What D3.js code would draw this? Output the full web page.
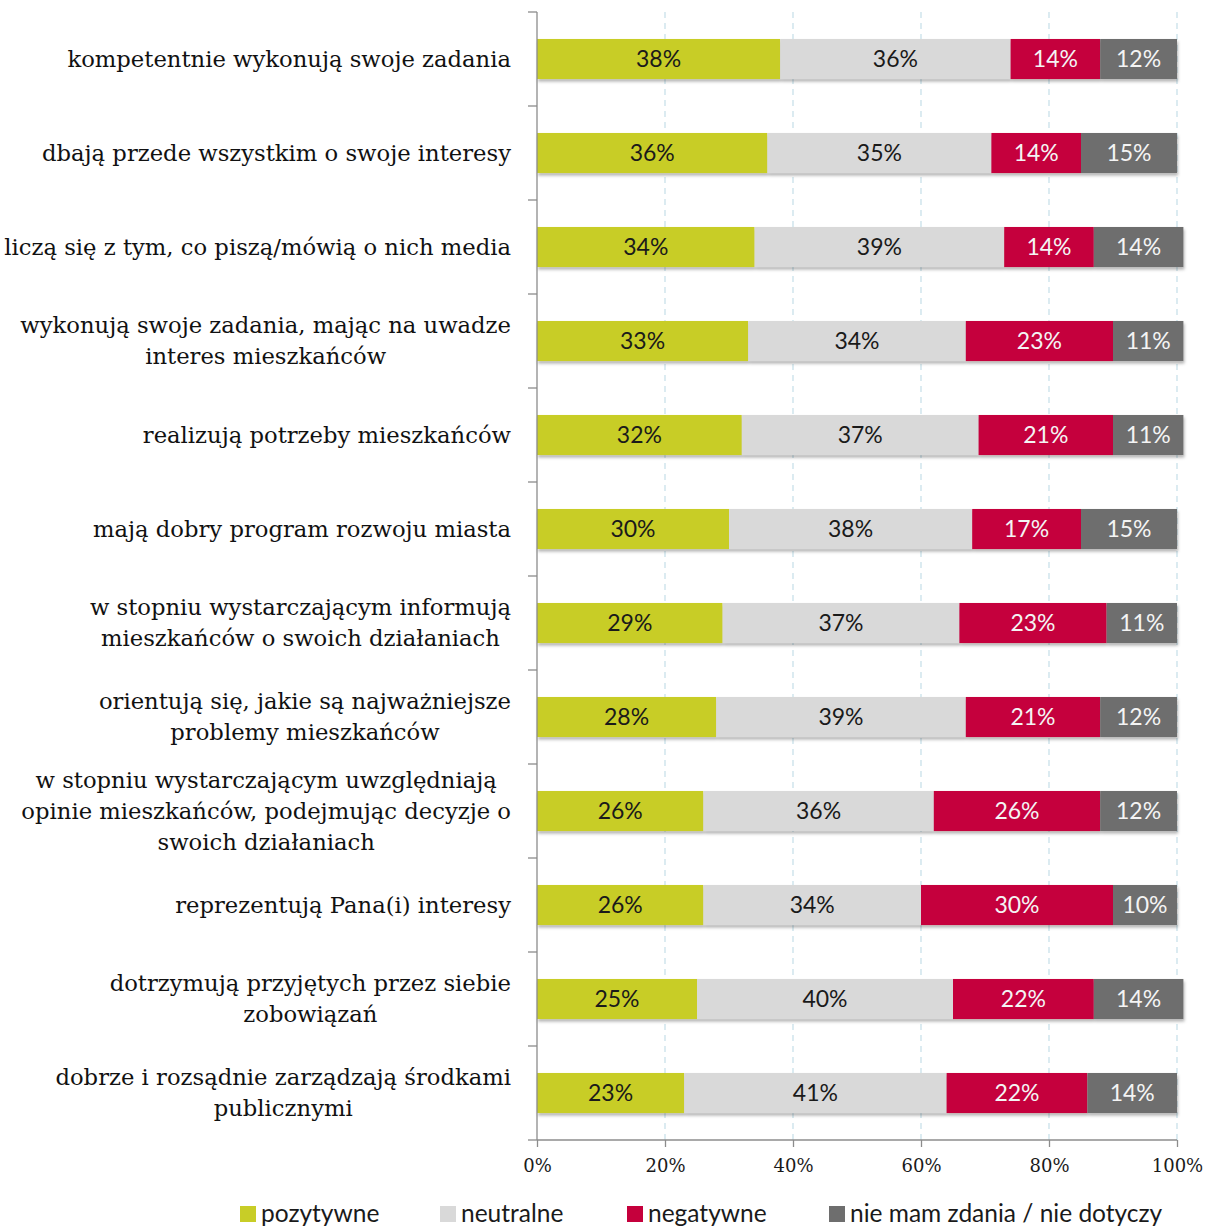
<!DOCTYPE html>
<html>
<head>
<meta charset="utf-8">
<script src="https://cdn.jsdelivr.net/npm/d3@7"></script>
<style>
  html, body { margin: 0; padding: 0; background: #fff; }
  svg { display: block; }
</style>
</head>
<body>
<svg id="chart" width="1206" height="1230"></svg>
<script>
// Survey statements (each entry is a list of lines as set in the label)
const statements = [
  ["kompetentnie wykonują swoje zadania"],
  ["dbają przede wszystkim o swoje interesy"],
  ["liczą się z tym, co piszą/mówią o nich media"],
  ["wykonują swoje zadania, mając na uwadze", "interes mieszkańców"],
  ["realizują potrzeby mieszkańców"],
  ["mają dobry program rozwoju miasta"],
  ["w stopniu wystarczającym informują", "mieszkańców o swoich działaniach"],
  ["orientują się, jakie są najważniejsze", "problemy mieszkańców"],
  ["w stopniu wystarczającym uwzględniają", "opinie mieszkańców, podejmując decyzje o", "swoich działaniach"],
  ["reprezentują Pana(i) interesy"],
  ["dotrzymują przyjętych przez siebie", "zobowiązań"],
  ["dobrze i rozsądnie zarządzają środkami", "publicznymi"]
];

// Share of answers (%) per statement
const pozytywne = [38, 36, 34, 33, 32, 30, 29, 28, 26, 26, 25, 23];
const neutralne = [36, 35, 39, 34, 37, 38, 37, 39, 36, 34, 40, 41];
const negatywne = [14, 14, 14, 23, 21, 17, 23, 21, 26, 30, 22, 22];
const brakZdania = [12, 15, 14, 11, 11, 15, 11, 12, 12, 10, 14, 14];

const seriesNames = ["pozytywne", "neutralne", "negatywne", "nie mam zdania / nie dotyczy"];
const xTicks = [0, 20, 40, 60, 80, 100];

const colors = ["#c8cd27", "#d9d9d9", "#c5003c", "#6e6e6e"];
const textColors = ["#1a1a1a", "#1a1a1a", "#f4f4f4", "#f4f4f4"];

const rows = statements.map((s, i) => ({
  id: i,
  lines: s,
  values: [pozytywne[i], neutralne[i], negatywne[i], brakZdania[i]]
}));

const svg = d3.select("#chart");
const serif = "'DejaVu Serif', serif";
const sans = "Lato, 'Open Sans', sans-serif";

const x = d3.scaleLinear().domain([0, 100]).range([537, 1177]);
const y = d3.scaleBand()
  .domain(rows.map(r => r.id))
  .range([12, 1140])
  .paddingInner(0.574)
  .paddingOuter(0.287);

// soft shadow under the bars
const defs = svg.append("defs");
const f = defs.append("filter").attr("id", "shadow")
  .attr("x", "-5%").attr("y", "-20%").attr("width", "110%").attr("height", "160%");
f.append("feDropShadow").attr("dx", 1).attr("dy", 2.5).attr("stdDeviation", 1.6)
  .attr("flood-color", "#000").attr("flood-opacity", 0.3);

// dashed vertical gridlines
svg.append("g").selectAll("line")
  .data(xTicks.filter(t => t > 0))
  .join("line")
  .attr("x1", d => x(d)).attr("x2", d => x(d))
  .attr("y1", 12).attr("y2", 1140)
  .attr("stroke", "#c9e1ea").attr("stroke-width", 1.3)
  .attr("stroke-dasharray", "6,5");

// stacked bars
const stack = d3.stack().keys([0, 1, 2, 3]).value((r, k) => r.values[k]);
const layers = stack(rows);

const rowG = svg.append("g").attr("filter", "url(#shadow)");
layers.forEach((layer, k) => {
  rowG.append("g").selectAll("rect")
    .data(layer)
    .join("rect")
    .attr("x", d => x(d[0]))
    .attr("width", d => x(d[1]) - x(d[0]))
    .attr("y", d => y(d.data.id))
    .attr("height", y.bandwidth())
    .attr("fill", colors[k]);
});

// value labels
layers.forEach((layer, k) => {
  svg.append("g").selectAll("text")
    .data(layer)
    .join("text")
    .attr("x", d => (x(d[0]) + x(d[1])) / 2)
    .attr("y", d => y(d.data.id) + y.bandwidth() / 2)
    .attr("dy", "0.36em")
    .attr("text-anchor", "middle")
    .attr("font-family", sans)
    .attr("font-size", 23)
    .attr("fill", textColors[k])
    .text(d => d.data.values[k] + "%");
});

// left axis with ticks at band boundaries
svg.append("line")
  .attr("x1", 537).attr("x2", 537).attr("y1", 12).attr("y2", 1140)
  .attr("stroke", "#8c8c8c").attr("stroke-width", 1.3);
svg.append("g").selectAll("line")
  .data(d3.range(rows.length + 1))
  .join("line")
  .attr("x1", 528).attr("x2", 537)
  .attr("y1", i => 12 + i * y.step())
  .attr("y2", i => 12 + i * y.step())
  .attr("stroke", "#8c8c8c").attr("stroke-width", 1.3);

// bottom axis
const xAxis = d3.axisBottom(x)
  .tickValues(xTicks)
  .tickSize(7)
  .tickPadding(12)
  .tickFormat(d => d + "%");
const gx = svg.append("g").attr("transform", "translate(0,1140)").call(xAxis);
gx.select(".domain").attr("stroke", "#8c8c8c").attr("stroke-width", 1.3).attr("d", "M537,0H1177");
gx.selectAll(".tick line").attr("stroke", "#8c8c8c").attr("stroke-width", 1.3);
gx.selectAll(".tick text")
  .attr("font-family", serif).attr("font-size", 18).attr("fill", "#1a1a1a");

// category labels: lines centred on each other, block right-aligned
const lineH = 31;
rows.forEach(r => {
  const g = svg.append("g");
  const cy = y(r.id) + y.bandwidth() / 2;
  const n = r.lines.length;
  const texts = r.lines.map((ln, j) => g.append("text")
    .attr("y", cy + (j - (n - 1) / 2) * lineH)
    .attr("dy", "0.35em")
    .attr("text-anchor", "middle")
    .attr("font-family", serif)
    .attr("font-size", 22.7)
    .attr("fill", "#111")
    .text(ln));
  const maxW = d3.max(texts, t => t.node().getComputedTextLength());
  texts.forEach(t => t.attr("x", 511 - maxW / 2));
});

// legend
const legendX = [240, 440, 627, 829];
const lg = svg.append("g");
seriesNames.forEach((name, k) => {
  lg.append("rect")
    .attr("x", legendX[k]).attr("y", 1206)
    .attr("width", 16).attr("height", 16)
    .attr("fill", colors[k]);
  lg.append("text")
    .attr("x", legendX[k] + 21).attr("y", 1222)
    .attr("font-family", sans).attr("font-size", 24.5)
    .attr("fill", "#1a1a1a")
    .text(name);
});
</script>
</body>
</html>
